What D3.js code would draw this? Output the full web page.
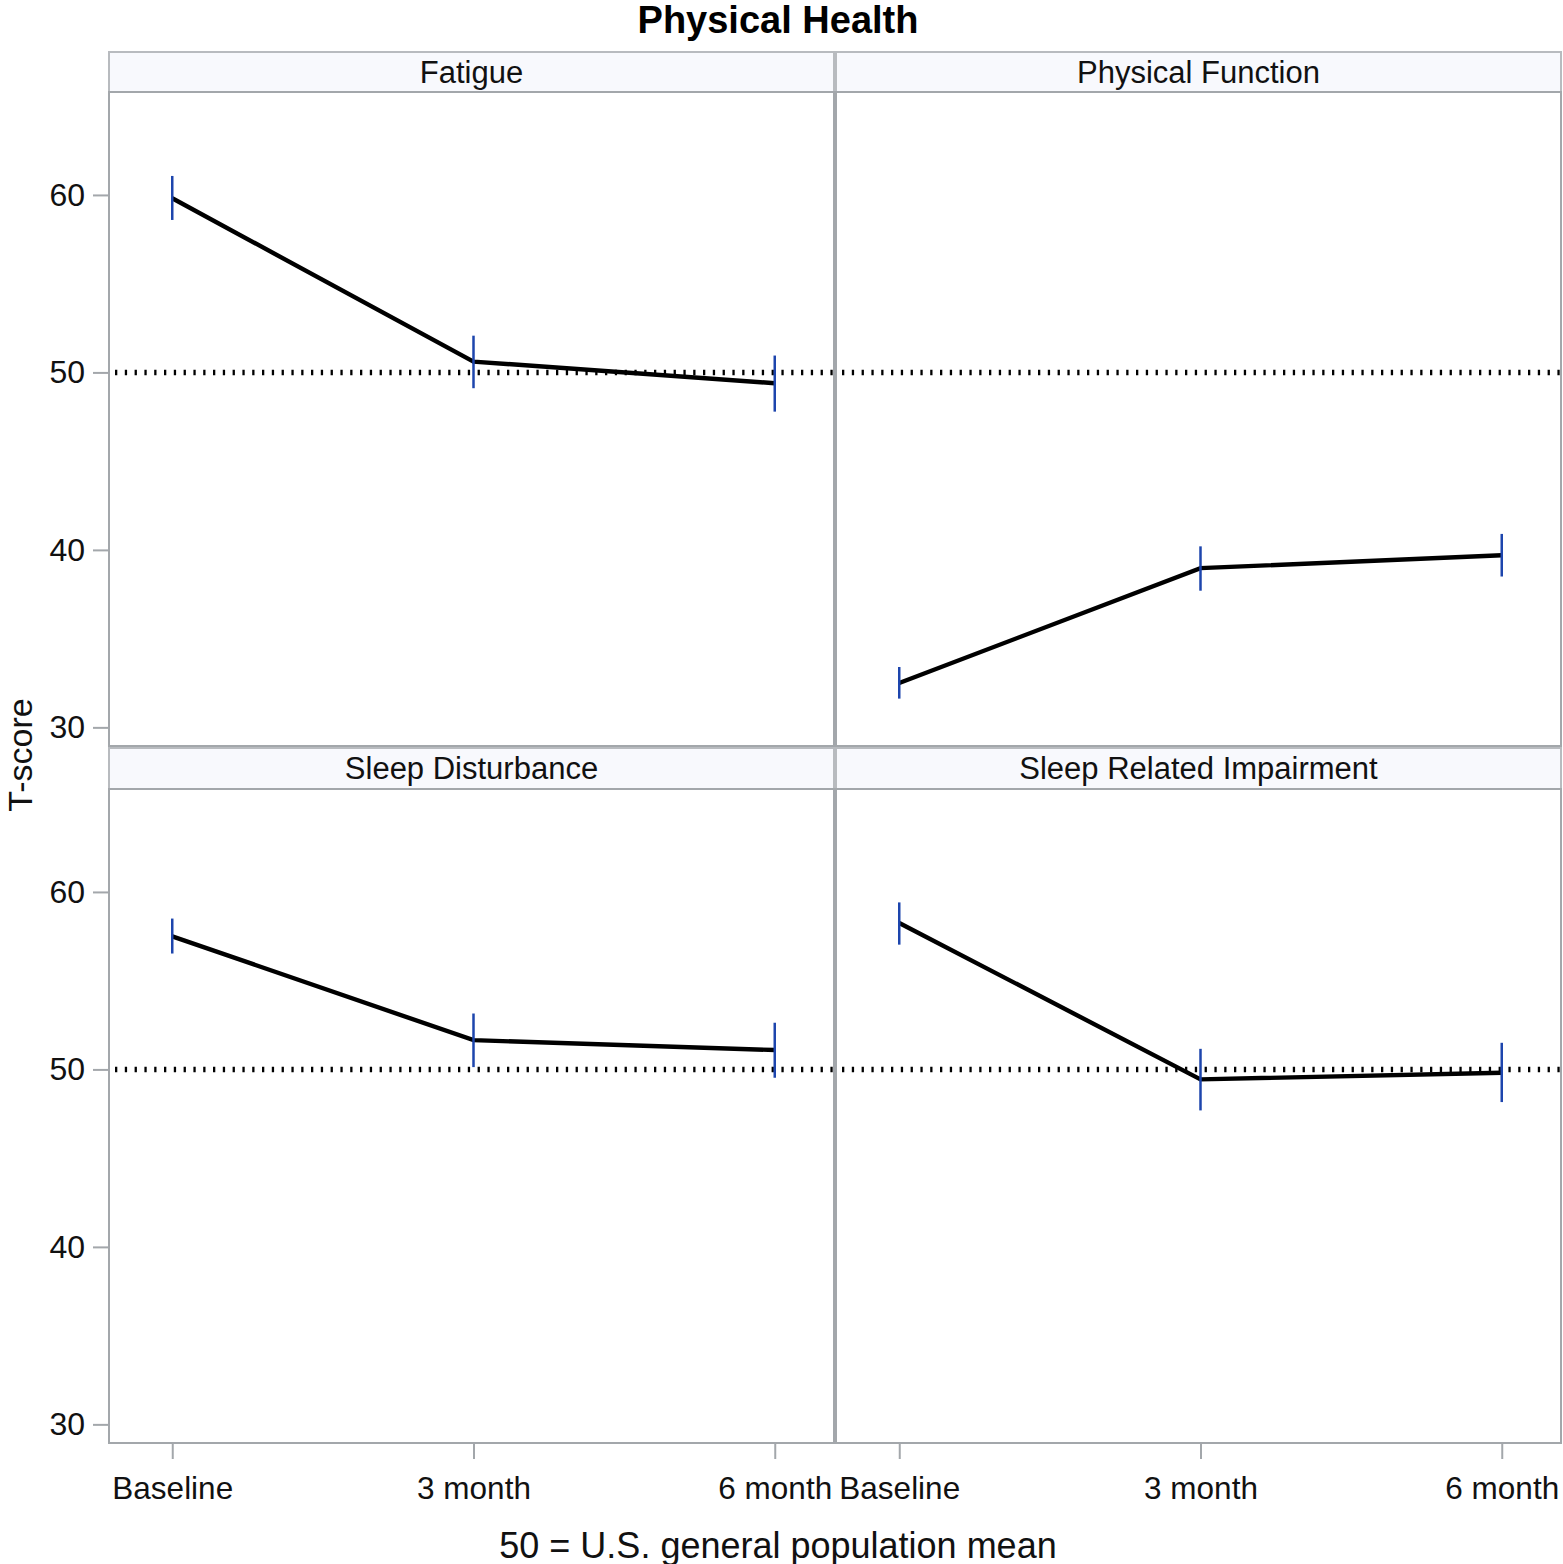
<!DOCTYPE html>
<html>
<head>
<meta charset="utf-8">
<script src="https://cdn.jsdelivr.net/npm/d3@7"></script>
<style>
  html, body { margin: 0; padding: 0; background: #fff; }
  svg { display: block; font-family: "Liberation Sans", Arial, sans-serif; }
</style>
</head>
<body>
<svg id="chart" width="1563" height="1564"></svg>
<script>
// ---- data ----
const categories = ["Baseline", "3 month", "6 month"];
const panelNames = ["Fatigue", "Physical Function", "Sleep Disturbance", "Sleep Related Impairment"];
const fatigueMean  = [59.81, 50.61, 49.39];
const fatigueLow   = [58.59, 49.11, 47.79];
const fatigueHigh  = [61.07, 52.07, 50.95];
const physMean     = [32.50, 38.97, 39.70];
const physLow      = [31.62, 37.70, 38.50];
const physHigh     = [33.40, 40.20, 40.90];
const sleepDMean   = [57.50, 51.65, 51.09];
const sleepDLow    = [56.53, 50.13, 49.53];
const sleepDHigh   = [58.50, 53.15, 52.63];
const sleepRMean   = [58.25, 49.44, 49.81];
const sleepRLow    = [57.03, 47.69, 48.16];
const sleepRHigh   = [59.41, 51.16, 51.50];
const yTicks = [30, 40, 50, 60];
const referenceValue = 50;
const titleText = "Physical Health";
const xLabelText = "50 = U.S. general population mean";
const yLabelText = "T-score";

const panelData = [
  { name: panelNames[0], mean: fatigueMean, low: fatigueLow, high: fatigueHigh },
  { name: panelNames[1], mean: physMean,    low: physLow,    high: physHigh },
  { name: panelNames[2], mean: sleepDMean,  low: sleepDLow,  high: sleepDHigh },
  { name: panelNames[3], mean: sleepRMean,  low: sleepRLow,  high: sleepRHigh }
];

// ---- layout ----
const svg = d3.select("#chart");
const gridColor = "#a3a7ab";
const colX = [109, 836];
const panelW = 725;
const rowY = [52, 748];   // top of header strip
const headerH = [40, 41];
const plotH = 654;
const yDomain = [28.95, 65.8];
const errColor = "#1d45ad";
const fontFam = "'Liberation Sans', Arial, sans-serif";

svg.append("text")
  .attr("x", 778).attr("y", 20)
  .attr("text-anchor", "middle").attr("dominant-baseline", "central")
  .attr("font-size", 38).attr("font-weight", "bold").attr("fill", "#000")
  .text(titleText);

panelData.forEach((p, i) => {
  const col = i % 2, row = Math.floor(i / 2);
  const x0 = colX[col];
  const hy = rowY[row];
  const hh = headerH[row];
  const py = hy + hh;
  const g = svg.append("g");

  const x = d3.scalePoint().domain(categories).range([x0 + 3, x0 + panelW + 1]).padding(0.2);
  const y = d3.scaleLinear().domain(yDomain).range([py + plotH, py]);

  // header strip
  g.append("rect").attr("x", x0).attr("y", hy).attr("width", panelW).attr("height", hh)
    .attr("fill", "#f8f9fd").attr("stroke", "#b8bbbf").attr("stroke-width", 2);
  g.append("text").attr("x", x0 + panelW / 2).attr("y", hy + hh / 2)
    .attr("text-anchor", "middle").attr("dominant-baseline", "central")
    .attr("font-size", 31).attr("fill", "#111").text(p.name);

  // plot frame
  g.append("rect").attr("x", x0).attr("y", py).attr("width", panelW).attr("height", plotH)
    .attr("fill", "#fff").attr("stroke", gridColor).attr("stroke-width", 2);

  // reference line
  g.append("line")
    .attr("x1", x0 + 6).attr("x2", x0 + panelW)
    .attr("y1", y(referenceValue)).attr("y2", y(referenceValue))
    .attr("stroke", "#000").attr("stroke-width", 5.5)
    .attr("stroke-dasharray", "2.3 7.5");

  // line
  const line = d3.line().x((d, k) => x(categories[k])).y(d => y(d));
  g.append("path").datum(p.mean).attr("d", line)
    .attr("fill", "none").attr("stroke", "#000").attr("stroke-width", 4.4)
    .attr("stroke-linejoin", "miter");

  // error bars
  g.selectAll("line.err").data(categories).enter().append("line")
    .attr("class", "err")
    .attr("x1", c => x(c)).attr("x2", c => x(c))
    .attr("y1", (c, k) => y(p.low[k])).attr("y2", (c, k) => y(p.high[k]))
    .attr("stroke", errColor).attr("stroke-width", 2.5);

  // y axis (left column)
  if (col === 0) {
    const ya = d3.axisLeft(y).tickValues(yTicks).tickSize(16).tickPadding(8).tickFormat(d3.format("d"));
    const ag = g.append("g").attr("transform", `translate(${x0},0)`).call(ya);
    ag.select(".domain").remove();
    ag.selectAll(".tick line").attr("stroke", gridColor).attr("stroke-width", 2);
    ag.selectAll(".tick text").attr("font-size", 32).attr("fill", "#111")
      .attr("font-family", fontFam);
  }
  // x axis (bottom row)
  if (row === 1) {
    const xa = d3.axisBottom(x).tickSize(16).tickPadding(18);
    const ag = g.append("g").attr("transform", `translate(0,${py + plotH})`).call(xa);
    ag.select(".domain").remove();
    ag.selectAll(".tick line").attr("stroke", gridColor).attr("stroke-width", 2);
    ag.selectAll(".tick text").attr("font-size", 31.5).attr("fill", "#111")
      .attr("font-family", fontFam);
  }
});

// divider between columns
svg.append("line").attr("x1", 835).attr("x2", 835).attr("y1", 92).attr("y2", 746)
  .attr("stroke", gridColor).attr("stroke-width", 4);
svg.append("line").attr("x1", 835).attr("x2", 835).attr("y1", 789).attr("y2", 1443)
  .attr("stroke", gridColor).attr("stroke-width", 4);

svg.append("text")
  .attr("x", 778).attr("y", 1545)
  .attr("text-anchor", "middle").attr("dominant-baseline", "central")
  .attr("font-size", 36).attr("fill", "#111")
  .text(xLabelText);

svg.append("text")
  .attr("transform", "translate(20,755) rotate(-90)")
  .attr("text-anchor", "middle").attr("dominant-baseline", "central")
  .attr("font-size", 34).attr("fill", "#111")
  .text(yLabelText);
</script>
</body>
</html>
